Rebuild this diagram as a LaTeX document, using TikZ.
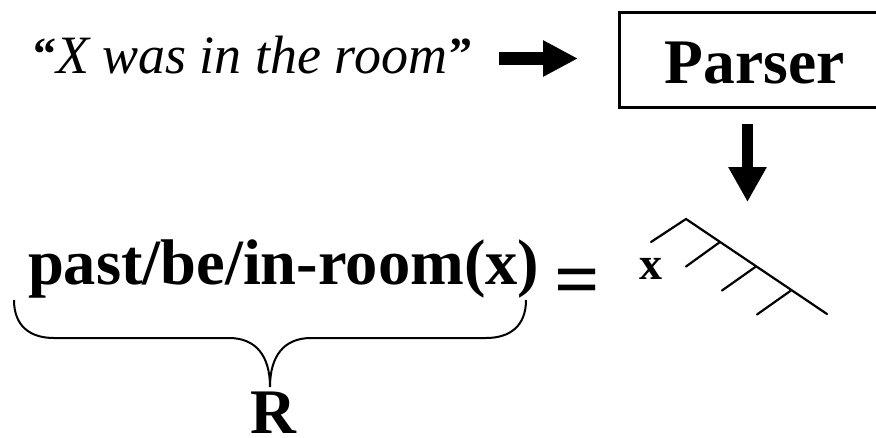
\documentclass[tikz,border=0pt]{standalone}
\usepackage{fontspec}
\setmainfont{Liberation Serif}
\usetikzlibrary{arrows.meta}
\tikzset{
  txt/.style={inner sep=0pt, outer sep=0pt},
  fatarrow/.style={line width=13pt, -{Triangle[length=35pt,width=34pt]}},
  fatdown/.style={line width=11.5pt, -{Triangle[length=35pt,width=36pt]}},
  treeline/.style={line width=2.2pt, line cap=round},
  bracestyle/.style={line width=2pt},
  boxstyle/.style={draw, line width=3pt, inner sep=0pt, minimum width=270.5pt, minimum height=95.5pt}
}
\newcommand{\qmark}[1]{\raisebox{4pt}{\fontsize{46}{50}\selectfont\bfseries #1}}
\begin{document}
\begin{tikzpicture}[x=1pt,y=-1pt]
\useasboundingbox (0,0) rectangle (876,437);
\clip (0,0) rectangle (876,437);
% sentence
\node[txt, anchor=base west] (sent) at (34,73)
  {\fontsize{54}{60}\selectfont\qmark{“}\kern-1pt\textit{X was in the room}\kern3pt\qmark{”}};
% parser box
\node[boxstyle] (parser) at (754.75,59.75) {};
\node[txt, anchor=base] (ptext) at (754.5,83) {\fontsize{63.5}{70}\selectfont\bfseries Parser};
% right arrow
\coordinate (a1) at (499,58.5);
\draw[fatarrow, shorten >=40pt] (a1) -- (a1 -| parser.west);
% down arrow
\coordinate (d2) at (747.5,202);
\draw[fatdown, shorten <=14.5pt] (parser.south -| d2) -- (d2);
% tree
\coordinate (tA) at (686,219);
\coordinate (tL) at (651,242);
\coordinate (tR) at (827,314);
\coordinate (k1) at (720,242);
\coordinate (k1e) at (686,266.5);
\coordinate (k2) at (756,266.5);
\coordinate (k2e) at (722,290.5);
\coordinate (k3) at (791,290.5);
\coordinate (k3e) at (757,314.5);
\draw[treeline] (tL) -- (tA) -- (tR);
\draw[treeline] (k1) -- (k1e);
\draw[treeline] (k2) -- (k2e);
\draw[treeline] (k3) -- (k3e);
\node[txt] (xlab) at (651,269) {\fontsize{46}{50}\selectfont\bfseries x};
% formula
\node[txt, anchor=base west] (formula) at (28,284)
  {\fontsize{64.5}{70}\selectfont\bfseries past/be/in-room(x)};
\node[txt] (eq) at (577.5,288) {\fontsize{80}{90}\selectfont\bfseries =};
% brace
\coordinate (bL) at (14,300);
\coordinate (bR) at (526,300);
\coordinate (bT) at (270,387);
\draw[bracestyle] (bL) .. controls (14,326) and (30,338) .. (54,338)
  -- (229,338) .. controls (256,338) and (270,356) .. (bT)
  .. controls (270,356) and (284,338) .. (311,338)
  -- (486,338) .. controls (510,338) and (526,326) .. (bR);
\node[txt, anchor=base] (R) at (273,433) {\fontsize{63.5}{70}\selectfont\bfseries R};
\end{tikzpicture}
\end{document}
